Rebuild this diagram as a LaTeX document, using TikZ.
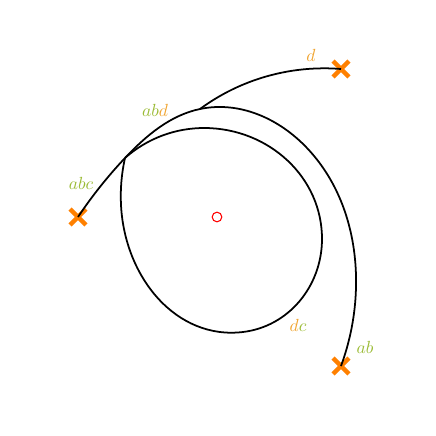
\documentclass[tikz,border=0pt]{standalone}
\usepackage{xcolor}
\usepackage{amsmath,amssymb}
\usepackage{tikz}
\usetikzlibrary{positioning,shapes.misc,hobby}

\definecolor{labgreen}{HTML}{9BBB35}
\definecolor{labor}{HTML}{F0A430}
\definecolor{crossor}{HTML}{FF8000}

\begin{document}
\begin{tikzpicture}[x=0.2cm, y=0.2cm]
  \useasboundingbox (-21.7,-21.9) rectangle (21.9,21.7);

  % Points
  \node[cross out, draw=crossor, line width=2.6pt, minimum size=6.5pt, inner sep=0pt] (pabc) at (-13.9, 0) {};
  \node[cross out, draw=crossor, line width=2.6pt, minimum size=6.5pt, inner sep=0pt] (pd) at (12.4, 14.8) {};
  \node[cross out, draw=crossor, line width=2.6pt, minimum size=6.5pt, inner sep=0pt] (pab) at (12.4, -14.9) {};

  % Centre
  \node[circle, draw=red, line width=0.6pt, minimum size=5.5pt, inner sep=0pt] (ctr) at (0, 0) {};

  % Passages
  \coordinate (cr) at (-9.2, 5.9);
  \coordinate (jn) at (-1.7, 10.8);
  \coordinate (o1) at (9.0, 6.9);
  \coordinate (r2) at (13.9, -7.1);
  \coordinate (m1) at (3.0, 13.4);
  \coordinate (t1) at (-1.2, 8.9);
  \coordinate (r1) at (10.5, -2.3);
  \coordinate (b1) at (2.6, -11.5);
  \coordinate (l1) at (-9.6, 1.2);

  % Courbes
  \draw[line width=1pt, use Hobby shortcut] (pabc.center) .. (cr) .. (jn)
    .. (o1) .. (r2) .. (pab.center);
  \draw[line width=1pt, use Hobby shortcut] (jn) .. (m1) .. (pd.center);
  \draw[line width=1pt, use Hobby shortcut] (cr) .. (t1) .. (r1) .. (b1) .. (l1) .. (cr);

  % Etiquettes
  \node (ld) at (9.4, 16.2) {\textcolor{labor}{$d$}};
  \node (labd) at (-6.2, 10.7) {\textcolor{labgreen}{$ab$}\textcolor{labor}{$d$}};
  \node (labc) at (-13.6, 3.4) {\textcolor{labgreen}{$abc$}};
  \node (ldc) at (8.1, -10.8) {\textcolor{labor}{$d$}\textcolor{labgreen}{$c$}};
  \node (lab) at (14.8, -13.0) {\textcolor{labgreen}{$ab$}};
\end{tikzpicture}
\end{document}
